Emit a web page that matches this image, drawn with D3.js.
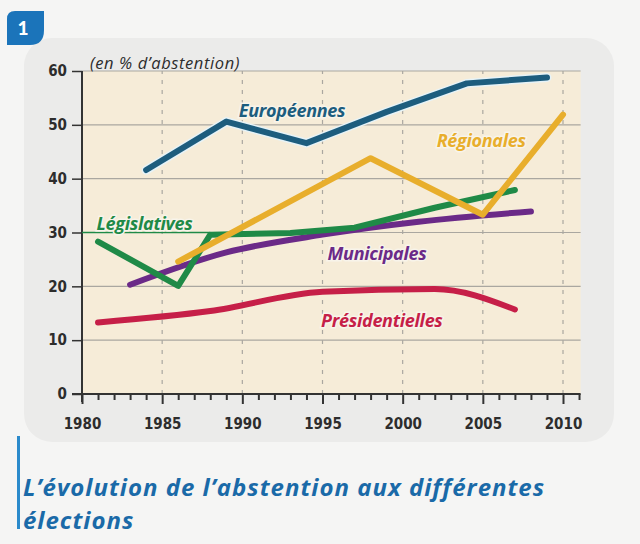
<!DOCTYPE html>
<html>
<head>
<meta charset="utf-8">
<script src="https://cdn.jsdelivr.net/npm/d3@7"></script>
<style>
  body { margin: 0; background: #f5f5f4; }
  svg { display: block; }
</style>
</head>
<body>
<script>
// data (% d'abstention)
var europeennesYears = [1984, 1989, 1994, 1999, 2004, 2009];
var europeennesValues = [41.6, 50.6, 46.6, 52.4, 57.7, 58.8];

var regionalesYears = [1986, 1998, 2005, 2010];
var regionalesValues = [24.6, 43.8, 33.3, 51.9];

var legislativesYears = [1981, 1986, 1988, 1993, 1997, 2002, 2007];
var legislativesValues = [28.3, 20.1, 29.6, 29.9, 30.9, 34.6, 37.9];

var municipalesYears = [1983, 1989, 1995, 2001, 2008];
var municipalesValues = [20.3, 26.3, 29.6, 32.0, 33.9];

var presidentiellesYears = [1981, 1988, 1995, 2002, 2007];
var presidentiellesValues = [13.3, 15.4, 19.0, 19.5, 15.7];

var yTicks = [0, 10, 20, 30, 40, 50, 60];
var xLabelTicks = [1980, 1985, 1990, 1995, 2000, 2005, 2010];

var w = 640;
var h = 544;

var svg = d3.select("body")
            .append("svg")
            .attr("width", w)
            .attr("height", h);

var xScale = d3.scaleLinear()
                .domain([1980, 2010])
                .range([82, 563]);

var yScale = d3.scaleLinear()
                .domain([0, 60])
                .range([394, 71]);

var xEnd = xScale(2011.1);

// grey panel behind chart
svg.append("rect")
    .attr("x", 24).attr("y", 38)
    .attr("width", 590).attr("height", 404)
    .attr("rx", 28)
    .attr("fill", "#ebebea");

// badge "1"
svg.append("path")
    .attr("d", "M7,19 Q7,11 15,11 L44,11 L44,30 Q44,45 30,45 L7,45 Z")
    .attr("fill", "#1b74ba");
svg.append("text")
    .attr("x", 23).attr("y", 35)
    .attr("text-anchor", "middle")
    .attr("font-family", "Lato, sans-serif")
    .attr("font-weight", "900")
    .attr("font-size", 19)
    .attr("fill", "white")
    .text("1");

// plot background
svg.append("rect")
    .attr("x", xScale(1980))
    .attr("y", yScale(60))
    .attr("width", xEnd - xScale(1980))
    .attr("height", yScale(0) - yScale(60))
    .attr("fill", "#f6ecd8");

// horizontal grid
svg.append("g")
    .selectAll("line")
    .data(yTicks.slice(1))
    .enter()
    .append("line")
    .attr("x1", xScale(1980))
    .attr("x2", xEnd)
    .attr("y1", function(d) { return yScale(d); })
    .attr("y2", function(d) { return yScale(d); })
    .attr("stroke", "#aaa7a0")
    .attr("stroke-width", 1.2);

// vertical dashed grid
svg.append("g")
    .selectAll("line")
    .data(xLabelTicks.slice(1))
    .enter()
    .append("line")
    .attr("x1", function(d) { return xScale(d); })
    .attr("x2", function(d) { return xScale(d); })
    .attr("y1", yScale(0))
    .attr("y2", yScale(60))
    .attr("stroke", "#aaa7a0")
    .attr("stroke-width", 1.2)
    .attr("stroke-dasharray", "4,6");

// Y Axis
var yAxis = d3.axisLeft(yScale)
                .tickValues(yTicks)
                .tickSize(10)
                .tickPadding(5);
var gy = svg.append("g")
    .attr("transform", "translate(" + xScale(1980) + ",0)")
    .call(yAxis);
gy.select(".domain").remove();
gy.append("line")
    .attr("x1", 0).attr("x2", 0)
    .attr("y1", yScale(60)).attr("y2", yScale(0) + 8)
    .attr("stroke", "#333").attr("stroke-width", 2);
gy.selectAll(".tick line").attr("stroke", "#333").attr("stroke-width", 1.5);
gy.selectAll(".tick text")
    .attr("font-family", "'DejaVu Sans Condensed', 'DejaVu Sans', sans-serif")
    .attr("font-weight", "bold")
    .attr("font-size", 15)
    .attr("fill", "#2d2d2d");

// X Axis : small tick every year
var xAxis = d3.axisBottom(xScale)
                .tickValues(d3.range(1980, 2012))
                .tickSize(6)
                .tickFormat(function(d) { return xLabelTicks.indexOf(d) >= 0 ? d : ""; })
                .tickPadding(18);
var gx = svg.append("g")
    .attr("transform", "translate(0," + yScale(0) + ")")
    .call(xAxis);
gx.select(".domain").remove();
gx.append("line")
    .attr("x1", xScale(1980) - 10).attr("x2", xEnd)
    .attr("y1", 0).attr("y2", 0)
    .attr("stroke", "#333").attr("stroke-width", 2);
gx.selectAll(".tick line")
    .attr("stroke", "#333")
    .attr("stroke-width", 2)
    .attr("y2", function(d) { return xLabelTicks.indexOf(d) >= 0 ? 10 : 6; });
gx.selectAll(".tick text")
    .attr("font-family", "'DejaVu Sans Condensed', 'DejaVu Sans', sans-serif")
    .attr("font-weight", "bold")
    .attr("font-size", 15)
    .attr("fill", "#2d2d2d");

// unit label
svg.append("text")
    .attr("x", 90).attr("y", 69)
    .attr("font-family", "'Open Sans', sans-serif")
    .attr("font-style", "italic")
    .attr("font-size", 16.5)
    .attr("letter-spacing", 0.6)
    .attr("fill", "#2d2d2d")
    .text("(en % d’abstention)");

// series
var series = [
    { name: "Européennes", years: europeennesYears, values: europeennesValues, color: "#1d5d7e", curve: d3.curveLinear, halo: true },
    { name: "Régionales", years: regionalesYears, values: regionalesValues, color: "#e8ae2c", curve: d3.curveLinear, halo: false },
    { name: "Législatives", years: legislativesYears, values: legislativesValues, color: "#1f8a47", curve: d3.curveLinear, halo: false },
    { name: "Municipales", years: municipalesYears, values: municipalesValues, color: "#6b2a88", curve: d3.curveMonotoneX, halo: false },
    { name: "Présidentielles", years: presidentiellesYears, values: presidentiellesValues, color: "#c61f48", curve: d3.curveMonotoneX, halo: false }
];

// draw order: Présidentielles, Municipales, Législatives, Régionales, Européennes
var drawOrder = [4, 3, 2, 1, 0];

drawOrder.forEach(function(i) {
    var s = series[i];
    var pts = s.years.map(function(y, j) { return [y, s.values[j]]; });
    var line = d3.line()
        .x(function(d) { return xScale(d[0]); })
        .y(function(d) { return yScale(d[1]); })
        .curve(s.curve);
    if (s.halo) {
        svg.append("path")
            .attr("d", line(pts))
            .attr("fill", "none")
            .attr("stroke", "#e6f3f8")
            .attr("stroke-width", 9)
            .attr("stroke-linecap", "round")
            .attr("stroke-linejoin", "round");
    }
    svg.append("path")
        .attr("d", line(pts))
        .attr("fill", "none")
        .attr("stroke", s.color)
        .attr("stroke-width", 6)
        .attr("stroke-linecap", "round")
        .attr("stroke-linejoin", "round");
});

// underscore around Législatives, on the 30 line
svg.append("line")
    .attr("x1", xScale(1980)).attr("x2", xScale(1988))
    .attr("y1", yScale(30)).attr("y2", yScale(30))
    .attr("stroke", "#1f8a47").attr("stroke-width", 1.5);

// series labels (anchored in data units)
var labelYears = [1993.1, 2004.9, 1983.9, 1998.4, 1998.7];
var labelValues = [51.5, 45.9, 30.4, 24.9, 12.4];

series.forEach(function(s, i) {
    svg.append("text")
        .attr("x", xScale(labelYears[i]))
        .attr("y", yScale(labelValues[i]))
        .attr("text-anchor", "middle")
        .attr("font-family", "'Open Sans', sans-serif")
        .attr("font-style", "italic")
        .attr("font-weight", "700")
        .attr("font-size", 18)
        .attr("letter-spacing", -0.3)
        .attr("fill", s.color)
        .attr("stroke", "#f8f4ea")
        .attr("stroke-width", 3)
        .attr("paint-order", "stroke")
        .text(s.name);
});

// caption
svg.append("rect")
    .attr("x", 17).attr("y", 436)
    .attr("width", 3).attr("height", 93)
    .attr("fill", "#2b8acb");

var captionLines = ["L’évolution de l’abstention aux différentes", "élections"];

svg.selectAll(".caption")
    .data(captionLines)
    .enter()
    .append("text")
    .attr("class", "caption")
    .attr("x", 23)
    .attr("y", function(d, i) { return 496 + i * 33; })
    .attr("font-family", "'Open Sans', sans-serif")
    .attr("font-style", "italic")
    .attr("font-weight", "700")
    .attr("font-size", 24)
    .attr("letter-spacing", 1)
    .attr("fill", "#1a6aa8")
    .text(function(d) { return d; });
</script>
</body>
</html>
